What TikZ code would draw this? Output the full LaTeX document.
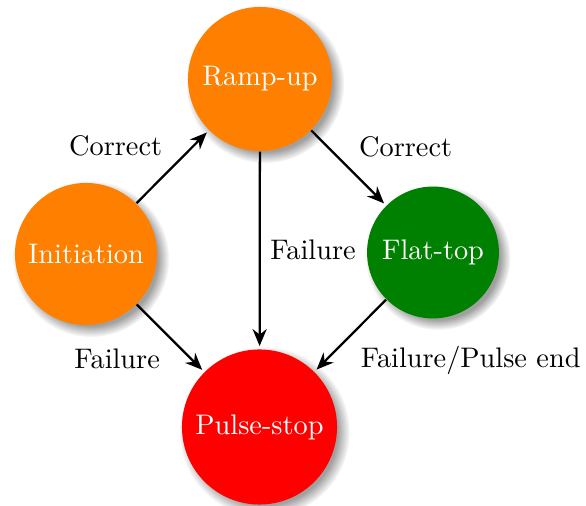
\documentclass[tikz,border=0pt]{standalone}
\usetikzlibrary{shadows,arrows.meta}
\begin{document}
\begin{tikzpicture}[x=0.35336pt,y=-0.35336pt,
  state/.style={circle,inner sep=0pt,text=white,
    circular drop shadow={shadow xshift=1.6pt,shadow yshift=-1.6pt,opacity=0.75}},
  trans/.style={-{Stealth[length=6pt,width=5pt]},thick,shorten >=1pt}]
\useasboundingbox (0,0) rectangle (586,506);
\node[state,fill=orange,minimum size=50.9pt] (ramp) at (260,79) {Ramp-up};
\node[state,fill=orange,minimum size=50.2pt] (init) at (86,254) {Initiation};
\node[state,fill=green!50!black,minimum size=46.6pt] (flat) at (433,252.5) {Flat-top};
\node[state,fill=red,minimum size=54.8pt] (stop) at (259.5,427) {Pulse-stop};
\draw[trans] (init) -- node[above left] {Correct} (ramp);
\draw[trans] (ramp) -- node[above right] {Correct} (flat);
\draw[trans] (ramp) -- node[right] {Failure} (stop);
\draw[trans] (init) -- node[below left] {Failure} (stop);
\draw[trans] (flat) -- node[below right] {Failure/Pulse end} (stop);
\end{tikzpicture}
\end{document}
